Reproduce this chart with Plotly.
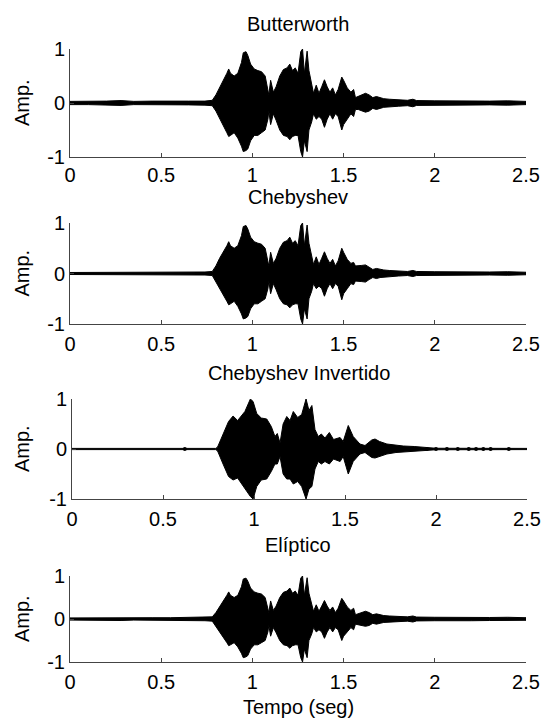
import plotly.graph_objects as go

# ---------------- data (envelopes) ----------------
titles = ["Butterworth", "Chebyshev", "Chebyshev Invertido", "Elíptico"]
x_ticks = [0, 0.5, 1, 1.5, 2, 2.5]
x_tick_labels = ["0", "0.5", "1", "1.5", "2", "2.5"]
y_ticks = [-1, 0, 1]
y_tick_labels = ["-1", "0", "1"]

t_butter = [0.00, 0.10, 0.20, 0.28, 0.35, 0.45, 0.55, 0.65, 0.74, 0.78, 0.80, 0.82, 0.84, 0.86,
            0.87, 0.88, 0.90, 0.92, 0.94, 0.95, 0.965, 0.975, 0.99, 1.01, 1.03, 1.05, 1.07,
            1.085, 1.09, 1.10, 1.115, 1.13, 1.15, 1.17, 1.19, 1.205, 1.22, 1.235, 1.25, 1.265,
            1.275, 1.285, 1.30, 1.31, 1.325, 1.335, 1.35, 1.365, 1.38, 1.395, 1.41, 1.425,
            1.44, 1.455, 1.47, 1.49, 1.50, 1.52, 1.54, 1.555, 1.565, 1.58, 1.60, 1.62, 1.64,
            1.66, 1.68, 1.70, 1.72, 1.75, 1.80, 1.85, 1.88, 1.90, 2.00, 2.10, 2.20, 2.30,
            2.40, 2.50]
up_butter = [0.03, 0.03, 0.035, 0.045, 0.03, 0.035, 0.03, 0.035, 0.035, 0.05, 0.15, 0.28, 0.40,
             0.55, 0.63, 0.55, 0.50, 0.55, 0.75, 0.93, 0.95, 0.88, 0.72, 0.63, 0.60, 0.58, 0.50,
             0.28, 0.15, 0.42, 0.20, 0.30, 0.50, 0.62, 0.65, 0.72, 0.60, 0.65, 0.55, 0.95, 1.00,
             0.55, 0.96, 0.60, 0.35, 0.18, 0.33, 0.18, 0.30, 0.43, 0.30, 0.20, 0.28, 0.15, 0.25,
             0.48, 0.42, 0.28, 0.20, 0.25, 0.10, 0.12, 0.15, 0.18, 0.15, 0.10, 0.12, 0.10, 0.08,
             0.07, 0.06, 0.05, 0.07, 0.045, 0.04, 0.035, 0.04, 0.035, 0.04, 0.03]
lo_butter = [-0.03, -0.03, -0.035, -0.045, -0.03, -0.035, -0.03, -0.035, -0.04, -0.05, -0.15,
             -0.30, -0.42, -0.55, -0.62, -0.60, -0.55, -0.65, -0.80, -0.90, -0.88, -0.85, -0.70,
             -0.60, -0.60, -0.55, -0.50, -0.30, -0.15, -0.40, -0.20, -0.32, -0.50, -0.60, -0.62,
             -0.68, -0.62, -0.60, -0.60, -0.90, -1.00, -0.70, -0.90, -0.50, -0.35, -0.20, -0.30,
             -0.25, -0.30, -0.45, -0.30, -0.20, -0.30, -0.20, -0.25, -0.50, -0.40, -0.30, -0.20,
             -0.25, -0.12, -0.12, -0.15, -0.17, -0.15, -0.10, -0.12, -0.10, -0.08, -0.07, -0.06,
             -0.05, -0.07, -0.045, -0.04, -0.035, -0.04, -0.035, -0.04, -0.03]

t_cheby = [0.00, 0.10, 0.20, 0.28, 0.35, 0.45, 0.55, 0.65, 0.74, 0.78, 0.80, 0.82, 0.84, 0.86,
           0.87, 0.88, 0.90, 0.92, 0.94, 0.95, 0.965, 0.975, 0.99, 1.01, 1.03, 1.05, 1.07,
           1.085, 1.09, 1.10, 1.115, 1.13, 1.15, 1.17, 1.19, 1.205, 1.22, 1.235, 1.25, 1.265,
           1.275, 1.285, 1.30, 1.31, 1.325, 1.335, 1.35, 1.365, 1.38, 1.395, 1.41, 1.425,
           1.44, 1.455, 1.47, 1.49, 1.50, 1.52, 1.54, 1.555, 1.565, 1.58, 1.60, 1.62, 1.64,
           1.66, 1.68, 1.70, 1.72, 1.75, 1.80, 1.85, 1.88, 1.90, 2.00, 2.10, 2.20, 2.30,
           2.40, 2.50]
up_cheby = [0.02, 0.02, 0.025, 0.03, 0.02, 0.025, 0.02, 0.03, 0.03, 0.04, 0.15, 0.30, 0.42,
            0.55, 0.63, 0.55, 0.50, 0.55, 0.75, 0.93, 0.95, 0.88, 0.72, 0.63, 0.60, 0.58, 0.50,
            0.28, 0.15, 0.42, 0.20, 0.30, 0.50, 0.62, 0.65, 0.72, 0.60, 0.65, 0.55, 0.95, 1.00,
            0.55, 0.96, 0.60, 0.35, 0.18, 0.33, 0.18, 0.30, 0.43, 0.30, 0.20, 0.28, 0.15, 0.25,
            0.50, 0.42, 0.28, 0.20, 0.22, 0.15, 0.15, 0.16, 0.17, 0.12, 0.08, 0.10, 0.08, 0.07,
            0.06, 0.05, 0.04, 0.06, 0.04, 0.035, 0.03, 0.035, 0.03, 0.035, 0.025]
lo_cheby = [-0.02, -0.02, -0.025, -0.03, -0.02, -0.025, -0.02, -0.03, -0.03, -0.04, -0.15,
            -0.30, -0.42, -0.55, -0.62, -0.60, -0.55, -0.65, -0.80, -0.90, -0.88, -0.85, -0.70,
            -0.60, -0.60, -0.55, -0.50, -0.30, -0.15, -0.40, -0.20, -0.32, -0.50, -0.60, -0.62,
            -0.68, -0.62, -0.60, -0.60, -0.90, -1.00, -0.70, -0.90, -0.50, -0.35, -0.20, -0.30,
            -0.25, -0.30, -0.45, -0.30, -0.20, -0.30, -0.20, -0.25, -0.52, -0.40, -0.30, -0.20,
            -0.22, -0.15, -0.15, -0.16, -0.17, -0.12, -0.08, -0.10, -0.08, -0.07, -0.06, -0.05,
            -0.04, -0.06, -0.04, -0.035, -0.03, -0.035, -0.03, -0.035, -0.025]

t_inv = [0.00, 0.79, 0.80, 0.83, 0.86, 0.885, 0.91, 0.95, 0.98, 0.995, 1.015, 1.04, 1.07, 1.095,
         1.115, 1.128, 1.143, 1.16, 1.18, 1.198, 1.216, 1.24, 1.262, 1.286, 1.302, 1.318, 1.335,
         1.353, 1.37, 1.39, 1.414, 1.437, 1.473, 1.49, 1.518, 1.545, 1.582, 1.61, 1.647, 1.665,
         1.69, 1.73, 1.78, 1.82, 1.88, 1.92, 1.96, 2.00, 2.50]
up_inv = [0.012, 0.012, 0.04, 0.28, 0.55, 0.66, 0.57, 0.75, 1.00, 0.95, 0.71, 0.62, 0.60, 0.45,
          0.25, 0.31, 0.12, 0.50, 0.65, 0.57, 0.75, 0.63, 0.69, 1.00, 0.77, 0.87, 0.39, 0.25,
          0.30, 0.22, 0.33, 0.19, 0.23, 0.15, 0.47, 0.25, 0.10, 0.07, 0.18, 0.20, 0.15, 0.10,
          0.07, 0.06, 0.05, 0.04, 0.025, 0.015, 0.012]
lo_inv = [-0.012, -0.012, -0.04, -0.30, -0.55, -0.62, -0.58, -0.80, -0.95, -1.00, -0.75, -0.62,
          -0.60, -0.45, -0.30, -0.30, -0.15, -0.50, -0.60, -0.60, -0.70, -0.65, -0.75, -1.00,
          -0.80, -0.75, -0.40, -0.25, -0.30, -0.25, -0.30, -0.20, -0.25, -0.15, -0.50, -0.25,
          -0.10, -0.07, -0.17, -0.18, -0.15, -0.10, -0.07, -0.06, -0.05, -0.04, -0.025, -0.015,
          -0.012]
dots_inv = [0.62, 1.95, 2.00, 2.06, 2.12, 2.18, 2.22, 2.26, 2.30, 2.40]

t_ellip = [0.00, 0.10, 0.20, 0.28, 0.35, 0.45, 0.55, 0.65, 0.74, 0.78, 0.80, 0.82, 0.84, 0.86,
           0.87, 0.88, 0.90, 0.92, 0.94, 0.95, 0.965, 0.975, 0.99, 1.01, 1.03, 1.05, 1.07,
           1.085, 1.09, 1.10, 1.115, 1.13, 1.15, 1.17, 1.19, 1.205, 1.22, 1.235, 1.25, 1.265,
           1.275, 1.285, 1.30, 1.31, 1.325, 1.335, 1.35, 1.365, 1.38, 1.395, 1.41, 1.425,
           1.44, 1.455, 1.47, 1.49, 1.50, 1.52, 1.54, 1.555, 1.565, 1.58, 1.60, 1.62, 1.64,
           1.66, 1.68, 1.70, 1.72, 1.75, 1.80, 1.85, 1.88, 1.90, 2.00, 2.10, 2.20, 2.30,
           2.40, 2.50]
up_ellip = [0.025, 0.03, 0.03, 0.035, 0.025, 0.03, 0.03, 0.035, 0.035, 0.05, 0.15, 0.28, 0.40,
            0.55, 0.63, 0.55, 0.50, 0.55, 0.75, 0.93, 0.95, 0.88, 0.72, 0.63, 0.60, 0.58, 0.50,
            0.28, 0.15, 0.42, 0.20, 0.30, 0.50, 0.62, 0.65, 0.72, 0.60, 0.65, 0.55, 0.95, 1.00,
            0.55, 0.96, 0.60, 0.35, 0.18, 0.33, 0.18, 0.30, 0.43, 0.30, 0.20, 0.28, 0.15, 0.25,
            0.48, 0.42, 0.28, 0.20, 0.25, 0.10, 0.12, 0.15, 0.18, 0.15, 0.10, 0.12, 0.10, 0.08,
            0.07, 0.06, 0.05, 0.07, 0.045, 0.04, 0.035, 0.04, 0.035, 0.04, 0.03]
lo_ellip = [-0.025, -0.03, -0.03, -0.035, -0.025, -0.03, -0.03, -0.035, -0.04, -0.05, -0.15,
            -0.30, -0.42, -0.55, -0.62, -0.60, -0.55, -0.65, -0.80, -0.90, -0.88, -0.85, -0.70,
            -0.60, -0.60, -0.55, -0.50, -0.30, -0.15, -0.40, -0.20, -0.32, -0.50, -0.60, -0.62,
            -0.68, -0.62, -0.60, -0.60, -0.90, -1.00, -0.70, -0.90, -0.50, -0.35, -0.20, -0.30,
            -0.25, -0.30, -0.45, -0.30, -0.20, -0.30, -0.20, -0.25, -0.50, -0.40, -0.30, -0.20,
            -0.25, -0.12, -0.12, -0.15, -0.17, -0.15, -0.10, -0.12, -0.10, -0.08, -0.07, -0.06,
            -0.05, -0.07, -0.045, -0.04, -0.035, -0.04, -0.035, -0.04, -0.03]

series = [
    (t_butter, up_butter, lo_butter, []),
    (t_cheby, up_cheby, lo_cheby, []),
    (t_inv, up_inv, lo_inv, dots_inv),
    (t_ellip, up_ellip, lo_ellip, []),
]

# ---------------- layout (pixel geometry) ----------------
W, H = 545, 726
FONT = "Liberation Sans, Arial, sans-serif"
# (left, right, top, bottom) in pixels for each axes box
boxes = [(70, 526, 49, 157), (70, 526, 223, 324), (72, 527, 399, 499), (70, 526, 576, 662)]
title_y = [24, 197, 373, 545]
xlabel_standoff = [0, 2, 2, 2]

fig = go.Figure()
annotations = []
for i, ((t, up, lo, dots), (l, r, tp, bt)) in enumerate(zip(series, boxes)):
    n = i + 1
    xa = "x" if n == 1 else f"x{n}"
    ya = "y" if n == 1 else f"y{n}"
    poly_x = list(t) + list(reversed(t)) + [t[0]]
    poly_y = list(up) + list(reversed(lo)) + [up[0]]
    fig.add_trace(go.Scatter(x=poly_x, y=poly_y, mode="lines", fill="toself",
                             fillcolor="black", line=dict(color="black", width=1),
                             xaxis=xa, yaxis=ya, showlegend=False, hoverinfo="skip"))
    if dots:
        fig.add_trace(go.Scatter(x=dots, y=[0] * len(dots), mode="markers",
                                 marker=dict(color="black", size=4, symbol="circle"),
                                 xaxis=xa, yaxis=ya, showlegend=False, hoverinfo="skip"))
    axis_common = dict(showline=True, linecolor="#444", linewidth=1, mirror=False,
                       ticks="inside", ticklen=4, tickcolor="#444", showgrid=False,
                       zeroline=False, automargin=False,
                       tickfont=dict(family=FONT, size=20, color="black"))
    fig.layout[("xaxis" if n == 1 else f"xaxis{n}")] = dict(
        domain=[l / W, r / W], range=[0, 2.5], anchor=ya,
        ticklabelstandoff=xlabel_standoff[i],
        tickvals=x_ticks, ticktext=x_tick_labels, **axis_common)
    fig.layout[("yaxis" if n == 1 else f"yaxis{n}")] = dict(
        domain=[1 - bt / H, 1 - tp / H], range=[-1, 1], anchor=xa,
        tickvals=y_ticks, ticktext=y_tick_labels, **axis_common)
    annotations.append(dict(text=titles[i], xref="paper", yref="paper",
                            x=(l + r) / 2 / W, y=1 - title_y[i] / H, xanchor="center",
                            yanchor="middle", showarrow=False,
                            font=dict(family=FONT, size=20, color="black")))
    annotations.append(dict(text="Amp.", xref="paper", yref="paper", x=22 / W,
                            y=1 - (tp + bt) / 2 / H, xanchor="center", yanchor="middle",
                            textangle=-90, showarrow=False,
                            font=dict(family=FONT, size=20, color="black")))

annotations.append(dict(text="Tempo (seg)", xref="paper", yref="paper", x=298 / W,
                        y=1 - 707 / H, xanchor="center", yanchor="middle", showarrow=False,
                        font=dict(family=FONT, size=20, color="black")))

fig.update_layout(width=W, height=H, margin=dict(l=0, r=0, t=0, b=0, autoexpand=False),
                  paper_bgcolor="white", plot_bgcolor="white",
                  annotations=annotations, showlegend=False)

fig.write_html("out.html", config={"displayModeBar": False, "staticPlot": True},
               post_script="document.body.style.margin='0';"
                           "document.documentElement.style.overflow='hidden';")
